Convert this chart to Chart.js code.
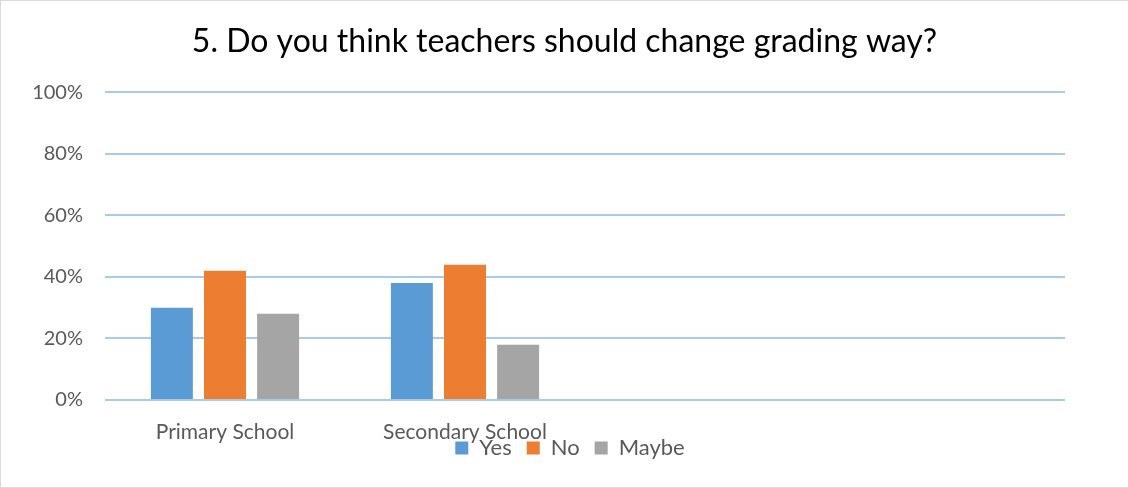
<!DOCTYPE html>
<html>
<head>
<meta charset="utf-8">
<script src="https://cdn.jsdelivr.net/npm/chart.js@4"></script>
<style>
  html, body { margin: 0; padding: 0; background: #fff; }
  #marco {
    width: 1128px; height: 488px; box-sizing: border-box;
    border-left: 1px solid #d9d9d9; border-top: 1px solid #d9d9d9; border-bottom: 1px solid #d9d9d9;
  }
  #grafico { display: block; }
</style>
</head>
<body>
<div id="marco"><canvas id="grafico" width="1127" height="486"></canvas></div>
<script>
// ── DATOS ─────────────────────────────────────
const CATEGORIAS = ["Primary School", "Secondary School", "", ""];
const SI     = [30, 38, null, null];
const NO     = [42, 44, null, null];
const QUIZAS = [28, 18, null, null];
const TICKS_Y = [0, 20, 40, 60, 80, 100];

const FUENTE = "Lato, 'Open Sans', sans-serif";
const GRIS_TEXTO = "#595959";

// La leyenda va pegada a las etiquetas del eje X (como en Excel)
const subirLeyenda = {
  id: "subirLeyenda",
  afterLayout(chart) {
    const l = chart.legend;
    if (!l) return;
    l.top -= 12;
    l.bottom -= 12;
    l.left += 11;
    l.right += 11;
  }
};

const ctx = document.getElementById("grafico").getContext("2d");

new Chart(ctx, {
  type: "bar",
  data: {
    labels: CATEGORIAS,
    datasets: [
      { label: "Yes",   data: SI,     backgroundColor: "#5b9bd5" },
      { label: "No",    data: NO,     backgroundColor: "#ed7d31" },
      { label: "Maybe", data: QUIZAS, backgroundColor: "#a5a5a5" },
    ]
  },
  plugins: [subirLeyenda],
  options: {
    responsive: false,
    animation: false,
    categoryPercentage: 0.664,
    barPercentage: 0.79,
    layout: { padding: { left: 0, right: 0, top: 0, bottom: 6 } },
    plugins: {
      title: {
        display: true,
        text: "5. Do you think teachers should change grading way?",
        color: "#000",
        font: { family: FUENTE, size: 32, weight: "normal" },
        padding: { top: 21, bottom: 32 },
      },
      legend: {
        position: "bottom",
        labels: {
          boxWidth: 13, boxHeight: 13,
          color: GRIS_TEXTO,
          padding: 4,
          font: { family: FUENTE, size: 22 },
          // espacio extra tras cada texto para separar los elementos
          generateLabels: chart => Chart.defaults.plugins.legend.labels.generateLabels(chart)
            .map(l => ({ ...l, text: l.text + "\u2002" })),
        }
      },
      tooltip: { enabled: false },
    },
    scales: {
      x: {
        grid: { display: false, drawTicks: false },
        border: { display: false },
        ticks: { color: GRIS_TEXTO, font: { family: FUENTE, size: 21 }, padding: 20, maxRotation: 0 },
        afterFit: s => { s.height = 45; },
      },
      y: {
        min: 0, max: 100,
        afterBuildTicks: s => { s.ticks = TICKS_Y.map(v => ({ value: v })); },
        grid: { color: "#a9cbea", lineWidth: 2, drawTicks: false },
        border: { display: false },
        ticks: {
          color: GRIS_TEXTO,
          font: { family: FUENTE, size: 20 },
          padding: 22,
          callback: v => v + "%",
        },
        afterFit: s => { s.width = 104; },
      },
      // eje vacío a la derecha, solo para reservar el margen
      derecha: {
        position: "right",
        display: true,
        grid: { display: false, drawTicks: false },
        border: { display: false },
        ticks: { display: false },
        afterFit: s => { s.width = 63; },
      }
    }
  }
});
</script>
</body>
</html>
